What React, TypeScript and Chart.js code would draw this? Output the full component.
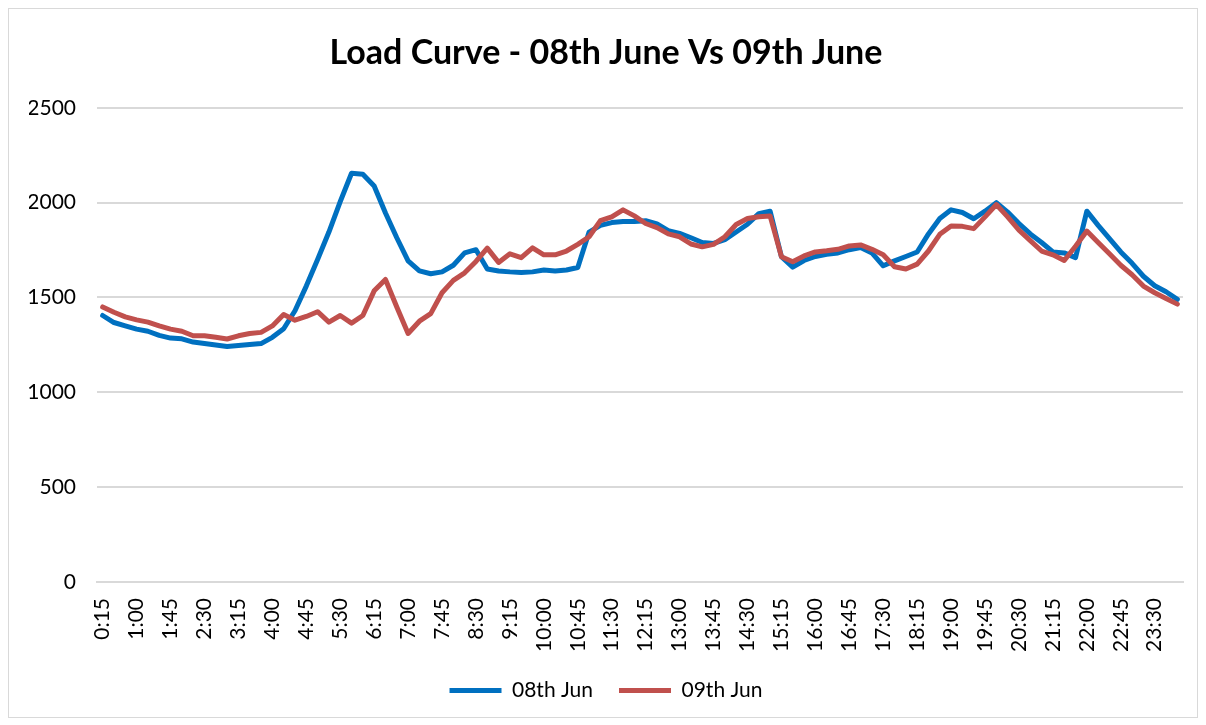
import React, { useEffect, useRef } from 'react';
import { Chart, registerables } from 'chart.js';

Chart.register(...registerables);

const timeLabels: string[] = [
  '0:15', '0:30', '0:45', '1:00', '1:15', '1:30', '1:45', '2:00',
  '2:15', '2:30', '2:45', '3:00', '3:15', '3:30', '3:45', '4:00',
  '4:15', '4:30', '4:45', '5:00', '5:15', '5:30', '5:45', '6:00',
  '6:15', '6:30', '6:45', '7:00', '7:15', '7:30', '7:45', '8:00',
  '8:15', '8:30', '8:45', '9:00', '9:15', '9:30', '9:45', '10:00',
  '10:15', '10:30', '10:45', '11:00', '11:15', '11:30', '11:45', '12:00',
  '12:15', '12:30', '12:45', '13:00', '13:15', '13:30', '13:45', '14:00',
  '14:15', '14:30', '14:45', '15:00', '15:15', '15:30', '15:45', '16:00',
  '16:15', '16:30', '16:45', '17:00', '17:15', '17:30', '17:45', '18:00',
  '18:15', '18:30', '18:45', '19:00', '19:15', '19:30', '19:45', '20:00',
  '20:15', '20:30', '20:45', '21:00', '21:15', '21:30', '21:45', '22:00',
  '22:15', '22:30', '22:45', '23:00', '23:15', '23:30', '23:45', '24:00',
];

const load08Jun: number[] = [
  1405, 1368, 1350, 1333, 1322, 1300, 1286, 1282,
  1265, 1257, 1250, 1242, 1247, 1252, 1257, 1290,
  1335, 1430, 1560, 1700, 1845, 2005, 2155, 2150,
  2088, 1945, 1815, 1693, 1640, 1625, 1635, 1670,
  1735, 1752, 1650, 1640, 1635, 1632, 1635, 1645,
  1640, 1645, 1658, 1845, 1880, 1895, 1900, 1900,
  1905, 1888, 1852, 1838, 1815, 1790, 1785, 1805,
  1845, 1886, 1942, 1955, 1715, 1660, 1695, 1716,
  1728, 1735, 1752, 1763, 1735, 1667, 1693, 1716,
  1740, 1835, 1916, 1962, 1948, 1915, 1955, 2000,
  1950, 1890, 1835, 1790, 1740, 1735, 1710, 1955,
  1880, 1810, 1740, 1680, 1612, 1562, 1530, 1490,
];

const load09Jun: number[] = [
  1450, 1422, 1398, 1382, 1370, 1350, 1333, 1322,
  1298, 1298, 1290, 1281, 1298, 1310, 1316, 1350,
  1410, 1380, 1400, 1425, 1370, 1405, 1365, 1405,
  1535, 1595, 1450, 1310, 1375, 1415, 1525, 1590,
  1630, 1690, 1760, 1685, 1730, 1710, 1762, 1725,
  1725, 1745, 1780, 1820, 1905, 1925, 1962, 1930,
  1890, 1868, 1835, 1820, 1782, 1767, 1780, 1820,
  1885, 1916, 1926, 1930, 1715, 1688, 1719, 1740,
  1746, 1754, 1772, 1777, 1754, 1725, 1662, 1650,
  1676, 1745, 1833, 1877, 1875, 1863, 1925, 1990,
  1925, 1855, 1800, 1745, 1725, 1695, 1770, 1850,
  1790, 1730, 1670, 1620, 1560, 1525, 1495, 1465,
];

const seriesNames: string[] = ['08th Jun', '09th Jun'];
const seriesColors: string[] = ['#0070C0', '#C0504D'];
const yTicks: number[] = [0, 500, 1000, 1500, 2000, 2500];
const chartTitle = 'Load Curve - 08th June Vs 09th June';

export default function App() {
  const canvasRef = useRef<HTMLCanvasElement | null>(null);

  useEffect(() => {
    if (!canvasRef.current) return;
    const font = 'Lato';
    const chart = new Chart(canvasRef.current, {
      type: 'line',
      data: {
        labels: timeLabels,
        datasets: [
          {
            label: seriesNames[0],
            data: load08Jun,
            borderColor: seriesColors[0],
            backgroundColor: seriesColors[0],
            borderWidth: 5,
            pointRadius: 0,
            pointHoverRadius: 0,
            tension: 0,
            borderJoinStyle: 'round',
            borderCapStyle: 'round',
            order: 1,
          },
          {
            label: seriesNames[1],
            data: load09Jun,
            borderColor: seriesColors[1],
            backgroundColor: seriesColors[1],
            borderWidth: 5,
            pointRadius: 0,
            pointHoverRadius: 0,
            tension: 0,
            borderJoinStyle: 'round',
            borderCapStyle: 'round',
            order: 0,
          },
        ],
      },
      options: {
        animation: false,
        responsive: true,
        maintainAspectRatio: false,
        layout: { padding: { left: 20, right: 14, top: 0, bottom: 6 } },
        plugins: {
          title: {
            display: true,
            text: chartTitle,
            color: '#000',
            font: { family: font, size: 34, weight: 'bold' },
            padding: { top: 24, bottom: 34 },
          },
          legend: {
            position: 'bottom',
            labels: {
              color: '#000',
              font: { family: font, size: 21 },
              usePointStyle: true,
              pointStyleWidth: 52,
              pointStyle: 'line',
              boxHeight: 21,
              padding: 26,
              sort: (a: any, b: any) => a.datasetIndex - b.datasetIndex,
            },
          },
          tooltip: { enabled: false },
        },
        scales: {
          x: {
            offset: true,
            grid: { display: false, drawTicks: false },
            border: { display: true, color: '#d9d9d9', width: 2 },
            afterFit: (axis: any) => {
              axis.paddingLeft = 0;
              axis.paddingRight = 0;
              axis.height = 72;
            },
            ticks: {
              autoSkip: false,
              minRotation: 90,
              maxRotation: 90,
              padding: 16,
              color: '#000',
              font: { family: font, size: 21 },
              callback: (_v: any, i: number) => (i % 3 === 0 ? timeLabels[i] : ''),
            },
          },
          y: {
            min: yTicks[0],
            max: yTicks[yTicks.length - 1],
            afterBuildTicks: (axis: any) => {
              axis.ticks = yTicks.map((v) => ({ value: v }));
            },
            afterFit: (axis: any) => {
              axis.width = 68;
            },
            grid: { color: '#d9d9d9', lineWidth: 2, drawTicks: false },
            border: { display: false },
            ticks: {
              padding: 21,
              color: '#000',
              font: { family: font, size: 21 },
              callback: (v: any) => String(v),
            },
          },
        },
      },
    });
    return () => chart.destroy();
  }, []);

  return (
    <div
      style={{
        width: 1190,
        height: 710,
        border: '1px solid #d9d9d9',
        boxSizing: 'border-box',
        background: '#fff',
      }}
    >
      <div style={{ position: 'relative', width: 1188, height: 708 }}>
        <canvas ref={canvasRef} />
      </div>
    </div>
  );
}
